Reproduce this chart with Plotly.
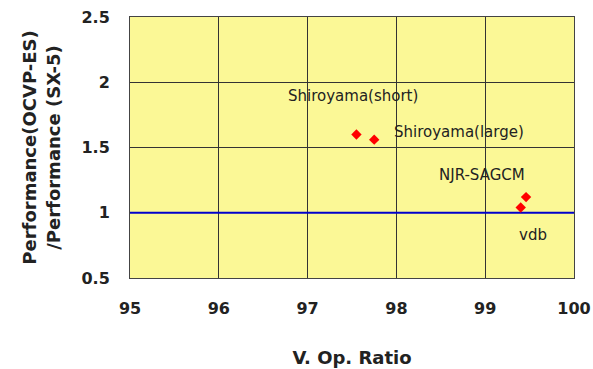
import plotly.graph_objects as go

# Data
names = ["Shiroyama(short)", "Shiroyama(large)", "NJR-SAGCM", "vdb"]
op_ratio = [97.55, 97.75, 99.46, 99.40]
perf_ratio = [1.60, 1.56, 1.12, 1.04]

# annotation anchor points (label positions in data coords)
label_x = [96.76, 97.95, 98.46, 99.36]
label_y = [1.895, 1.62, 1.29, 0.83]

baseline_x = [95, 100]
baseline_y = [1, 1]

x_ticks = [95, 96, 97, 98, 99, 100]
y_ticks = [0.5, 1, 1.5, 2, 2.5]
y_tick_text = ["0.5", "1", "1.5", "2", "2.5"]

fig = go.Figure()

fig.add_trace(go.Scatter(
    x=baseline_x, y=baseline_y, mode="lines",
    line=dict(color="#0000CC", width=2), hoverinfo="skip", showlegend=False,
    cliponaxis=False,
))

fig.add_trace(go.Scatter(
    x=op_ratio, y=perf_ratio, mode="markers",
    marker=dict(symbol="diamond", size=8, color="#FF0000"),
    text=names, showlegend=False,
))

for n, lx, ly in zip(names, label_x, label_y):
    fig.add_annotation(
        x=lx, y=ly, text=n, showarrow=False, xanchor="left", yanchor="middle",
        font=dict(family="DejaVu Sans", size=15, color="#222222"),
    )

tick_font = dict(family="DejaVu Sans", size=16, color="#222222", weight="bold")

fig.update_layout(
    width=593, height=369,
    margin=dict(l=130, r=19, t=17, b=91, autoexpand=False),
    paper_bgcolor="white",
    plot_bgcolor="#FBF896",
    xaxis=dict(
        range=[95, 100], tickvals=x_ticks, ticktext=[str(v) for v in x_ticks],
        showgrid=True, gridcolor="#333333", gridwidth=1,
        showline=True, linecolor="#444444", linewidth=1, mirror=True,
        ticks="", ticklabelstandoff=16, automargin=False,
        tickfont=tick_font, zeroline=False,
        title=dict(text="V. Op. Ratio", standoff=34,
                   font=dict(family="DejaVu Sans", size=18, color="#222222", weight="bold")),
    ),
    yaxis=dict(
        range=[0.5, 2.5], tickvals=y_ticks, ticktext=y_tick_text,
        showgrid=True, gridcolor="#333333", gridwidth=1,
        showline=True, linecolor="#444444", linewidth=1, mirror=True,
        ticks="", ticklabelstandoff=16, automargin=False,
        tickfont=tick_font, zeroline=False,
        title=dict(text="Performance(OCVP-ES)<br>/Performance (SX-5)", standoff=16,
                   font=dict(family="DejaVu Sans", size=18, color="#222222", weight="bold")),
    ),
)

fig.write_html("out.html", config={"displayModeBar": False},
               post_script="document.body.style.margin='0px';")
